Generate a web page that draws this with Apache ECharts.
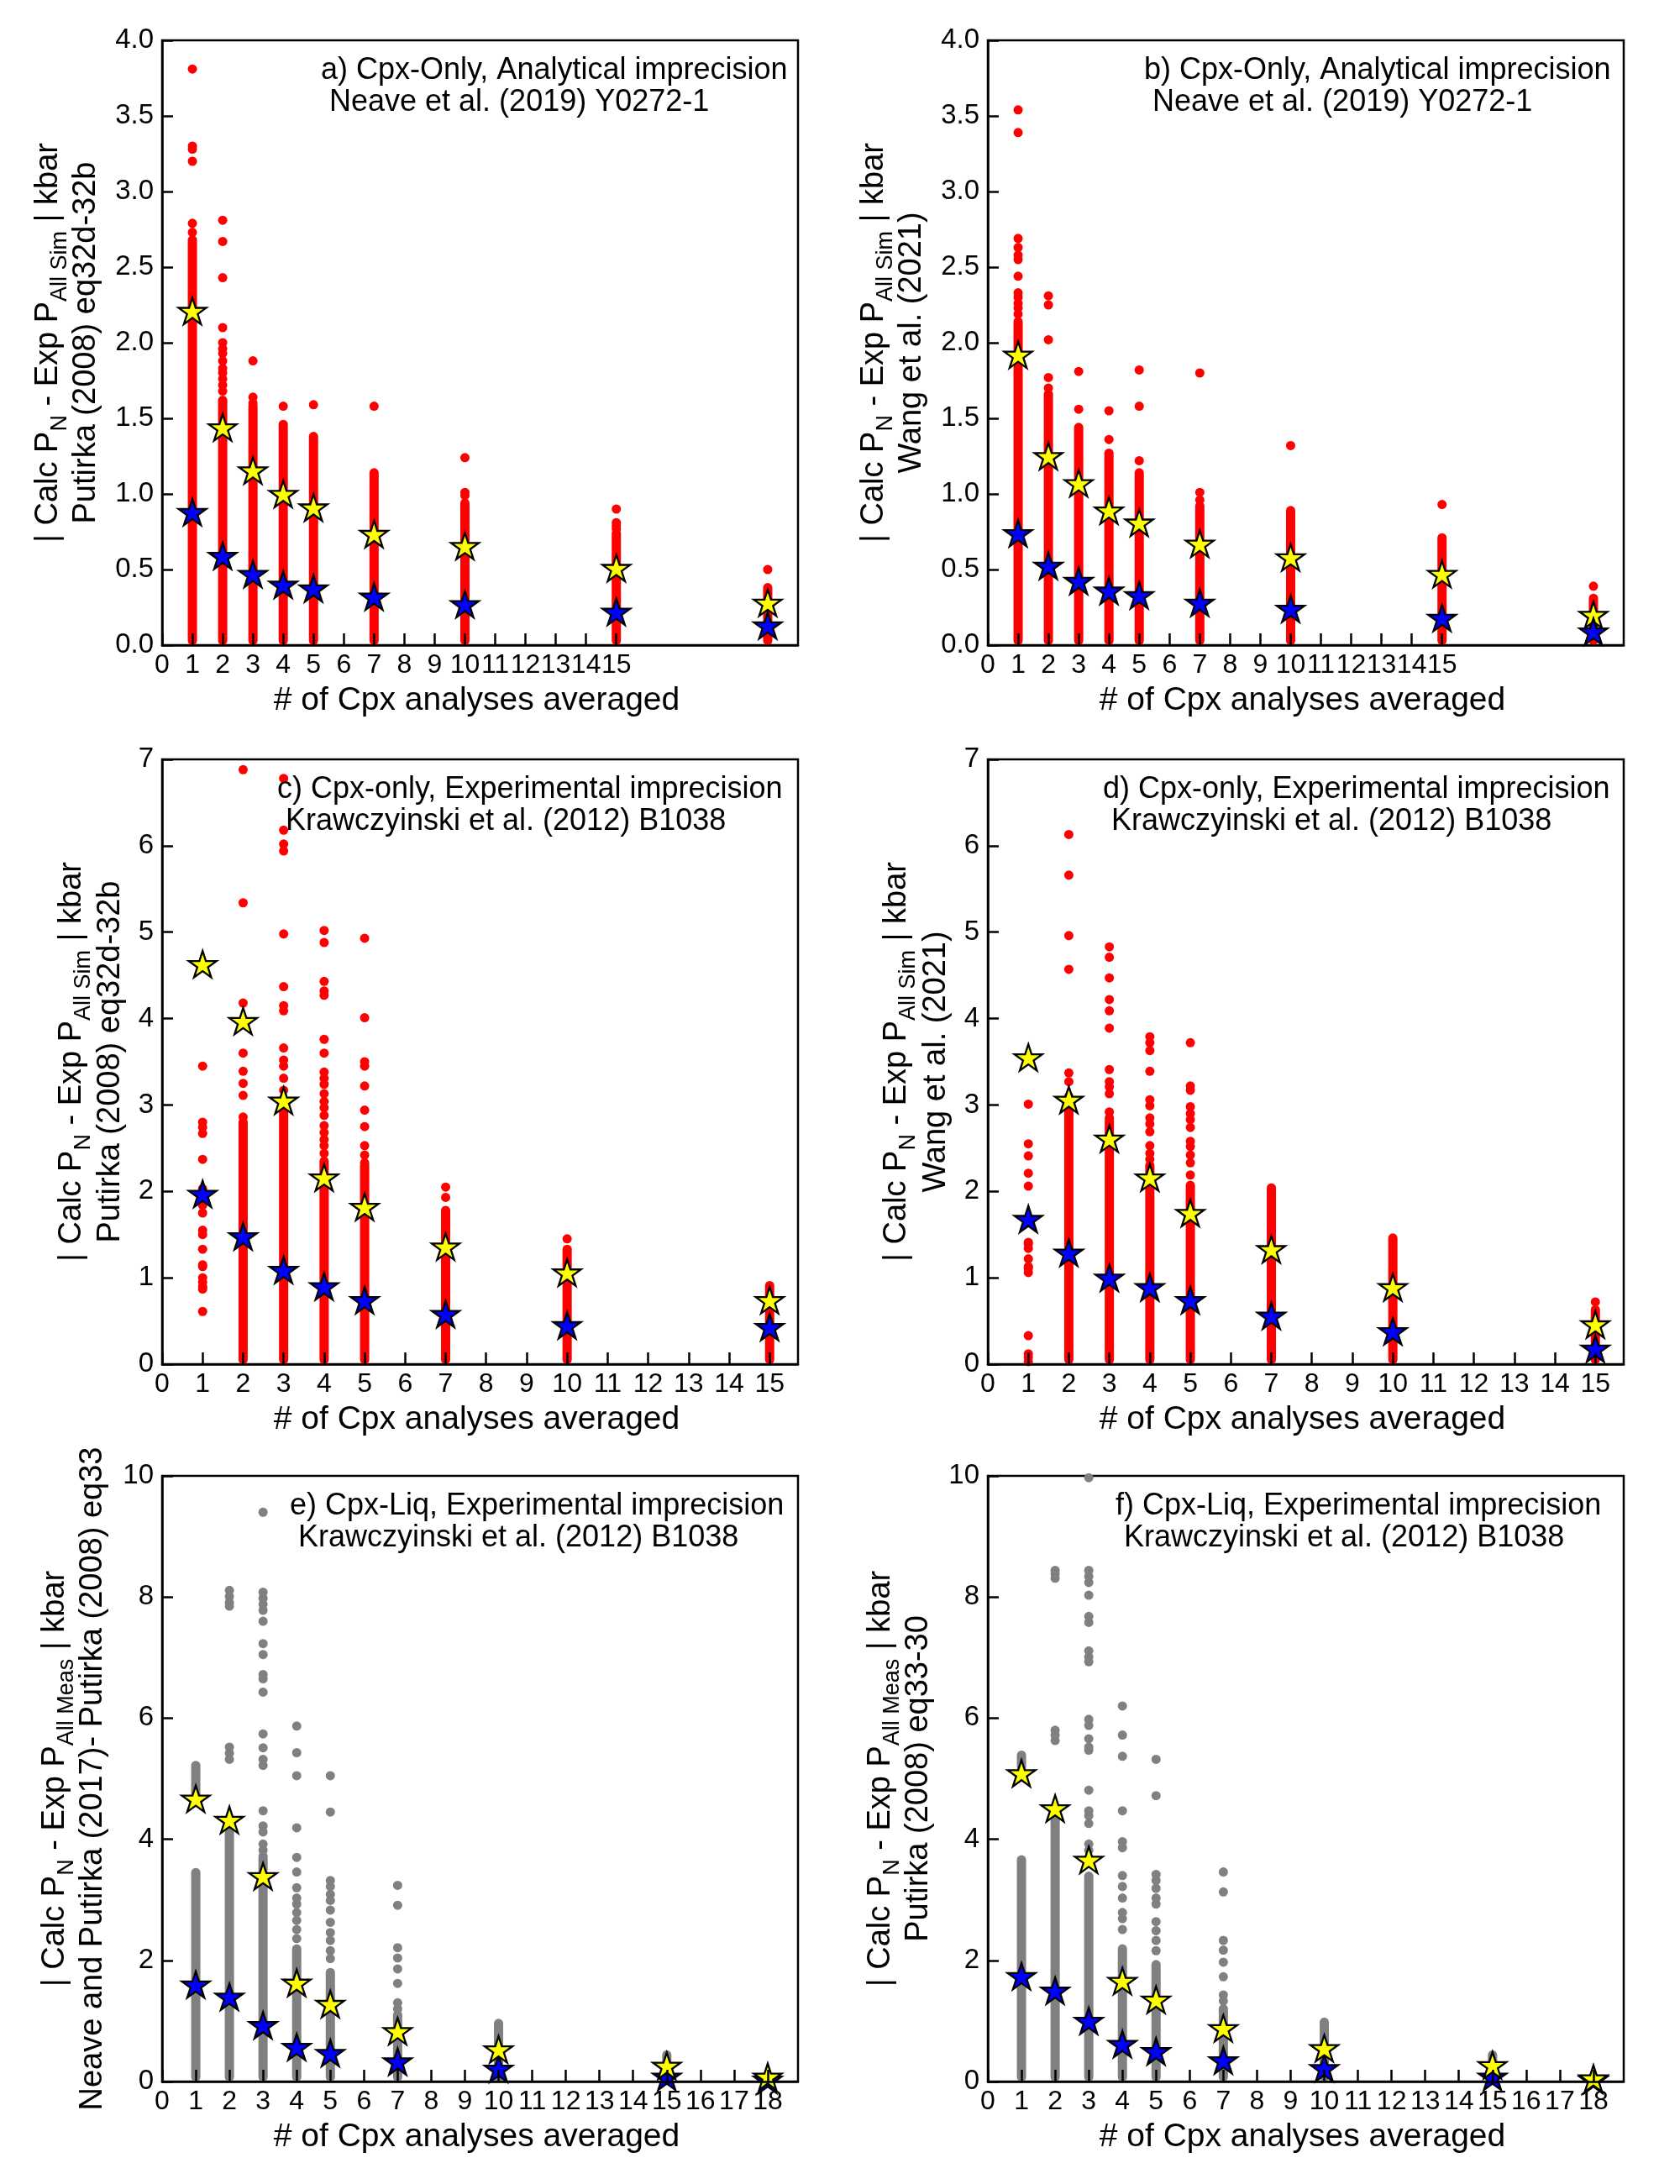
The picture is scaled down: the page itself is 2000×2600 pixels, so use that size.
<!DOCTYPE html>
<html><head><meta charset="utf-8">
<script src="https://cdn.jsdelivr.net/npm/echarts@6/dist/echarts.min.js"></script>
<style>html,body{margin:0;padding:0;background:#fff}#c{width:2000px;height:2600px}</style>
</head><body><div id="c"></div>
<script>
// ---------------- DATA ----------------
const xTicksAB = [0,1,2,3,4,5,6,7,8,9,10,11,12,13,14,15];
const xTicksCD = [0,1,2,3,4,5,6,7,8,9,10,11,12,13,14,15];
const xTicksEF = [0,1,2,3,4,5,6,7,8,9,10,11,12,13,14,15,16,17,18];

const colsAB = [1,2,3,4,5,7,10,15,20];
const colsCD = [1,2,3,4,5,7,10,15];
const colsEF = [1,2,3,4,5,7,10,15,18];

// dense (continuous) runs of points: [x, low, high]
const denseA = [[1,0,2.68],[2,0,1.62],[3,0,1.58],[4,0,1.46],[5,0,1.38],[7,0,1.14],[10,0,0.94],[15,0,0.74],[20,0,0.38]];
const denseB = [[1,0,2.14],[2,0,1.66],[3,0,1.44],[4,0,1.27],[5,0,1.14],[7,0,0.92],[10,0,0.89],[15,0,0.71],[20,0,0.31]];
const denseC = [[2,0,2.80],[3,0,2.95],[4,0,2.35],[5,0,2.30],[7,0,1.78],[10,0,1.33],[15,0,0.91]];
const denseD = [[2,0,2.99],[3,0,2.85],[4,0,2.30],[5,0,2.07],[7,0,2.04],[10,0,1.46],[15,0,0.63]];
const denseE = [[1,0,3.45],[1,4.65,5.22],[2,0,4.12],[3,0,3.72],[4,0,2.19],[5,0,1.80],[7,0,1.10],[10,0,0.96],[15,0,0.44],[18,0,0.10]];
const denseF = [[1,0,3.66],[1,5.19,5.39],[2,0,4.39],[3,0,3.39],[4,0,2.19],[5,0,1.93],[7,0,1.20],[10,0,0.98],[15,0,0.44],[18,0,0.08]];

// individual (sparse) points: [x, y]
const pointsA = [[1,3.81],[1,3.30],[1,3.28],[1,3.20],[1,2.79],[1,2.73],
 [2,2.81],[2,2.67],[2,2.43],[2,2.10],[2,2.00],[2,1.96],[2,1.93],[2,1.88],[2,1.83],[2,1.80],[2,1.76],[2,1.72],[2,1.68],
 [3,1.88],[3,1.64],[3,1.60],[4,1.58],[5,1.59],[7,1.58],[10,1.24],[10,1.01],[10,0.99],
 [15,0.90],[15,0.81],[15,0.79],[15,0.77],[20,0.50]];
const pointsB = [[1,3.54],[1,3.39],[1,2.69],[1,2.63],[1,2.58],[1,2.55],[1,2.44],[1,2.33],[1,2.30],[1,2.26],[1,2.23],[1,2.19],
 [2,2.31],[2,2.25],[2,2.02],[2,1.77],[2,1.70],[3,1.81],[3,1.56],[4,1.55],[4,1.36],
 [5,1.82],[5,1.58],[5,1.22],[7,1.80],[7,1.01],[7,0.96],[10,1.32],[15,0.93],[20,0.39]];
const pointsC = [[1,3.45],[1,2.80],[1,2.74],[1,2.67],[1,2.37],[1,2.03],[1,1.93],[1,1.84],[1,1.75],[1,1.55],[1,1.50],[1,1.33],[1,1.15],[1,1.13],[1,1.00],[1,0.95],[1,0.90],[1,0.87],[1,0.61],
 [2,6.88],[2,5.34],[2,4.18],[2,3.60],[2,3.39],[2,3.25],[2,3.11],[2,2.86],
 [3,6.78],[3,6.18],[3,6.02],[3,5.94],[3,4.98],[3,4.37],[3,4.15],[3,4.09],[3,3.66],[3,3.52],[3,3.45],[3,3.31],[3,3.17],[3,3.05],
 [4,5.02],[4,4.88],[4,4.43],[4,4.32],[4,4.27],[4,3.76],[4,3.60],[4,3.38],[4,3.31],[4,3.24],[4,3.13],[4,3.04],[4,2.97],[4,2.88],[4,2.76],[4,2.68],[4,2.60],[4,2.53],[4,2.44],
 [5,4.93],[5,4.01],[5,3.50],[5,3.45],[5,3.22],[5,2.94],[5,2.75],[5,2.53],[5,2.42],[5,2.33],
 [7,2.05],[7,1.93],[10,1.45]];
const pointsD = [[1,3.01],[1,2.55],[1,2.41],[1,2.21],[1,2.06],[1,1.66],[1,1.41],[1,1.39],[1,1.34],[1,1.22],[1,1.13],[1,1.11],[1,1.06],[1,0.33],[1,0.12],[1,0.08],[1,0.03],
 [2,6.13],[2,5.66],[2,4.96],[2,4.57],[2,3.37],[2,3.27],[2,3.10],
 [3,4.83],[3,4.71],[3,4.47],[3,4.22],[3,4.09],[3,3.89],[3,3.41],[3,3.27],[3,3.21],[3,3.13],[3,2.92],
 [4,3.79],[4,3.72],[4,3.63],[4,3.39],[4,3.06],[4,2.99],[4,2.85],[4,2.78],[4,2.69],[4,2.53],[4,2.44],[4,2.37],
 [5,3.72],[5,3.22],[5,3.17],[5,2.98],[5,2.90],[5,2.83],[5,2.74],[5,2.58],[5,2.52],[5,2.42],[5,2.33],[5,2.19],
 [15,0.72]];
const pointsE = [[2,8.11],[2,8.01],[2,7.91],[2,7.85],[2,5.52],[2,5.42],[2,5.32],
 [3,9.40],[3,8.08],[3,7.98],[3,7.88],[3,7.78],[3,7.60],[3,7.23],[3,7.05],[3,6.72],[3,6.65],[3,6.43],[3,5.74],[3,5.51],[3,5.32],[3,5.22],[3,4.47],[3,4.22],[3,4.12],[3,3.92],[3,3.82],
 [4,5.87],[4,5.43],[4,5.05],[4,4.19],[4,3.70],[4,3.46],[4,3.20],[4,3.03],[4,2.93],[4,2.79],[4,2.66],[4,2.51],[4,2.36],
 [5,5.05],[5,4.45],[5,3.32],[5,3.22],[5,3.09],[5,2.99],[5,2.83],[5,2.63],[5,2.46],[5,2.33],[5,2.16],[5,2.03],
 [7,3.24],[7,2.91],[7,2.21],[7,2.04],[7,1.86],[7,1.62],[7,1.30],[7,1.20]];
const pointsF = [[2,8.44],[2,8.38],[2,8.31],[2,5.80],[2,5.72],[2,5.63],
 [3,9.97],[3,8.44],[3,8.34],[3,8.24],[3,8.03],[3,7.68],[3,7.58],[3,7.11],[3,7.01],[3,6.93],[3,5.98],[3,5.88],[3,5.66],[3,5.52],[3,5.47],[3,4.81],[3,4.47],[3,4.39],[3,4.26],[3,3.92],[3,3.82],[3,3.60],
 [4,6.20],[4,5.72],[4,5.37],[4,4.47],[4,3.96],[4,3.86],[4,3.40],[4,3.22],[4,3.03],[4,2.79],[4,2.69],[4,2.51],
 [5,5.32],[5,4.72],[5,3.42],[5,3.32],[5,3.19],[5,3.03],[5,2.93],[5,2.64],[5,2.49],[5,2.33],[5,2.16],
 [7,3.46],[7,3.13],[7,2.33],[7,2.17],[7,1.97],[7,1.73],[7,1.43],[7,1.33]];

// summary stars
const yellowA = [2.21,1.44,1.155,1.00,0.91,0.735,0.655,0.51,0.28];
const blueA   = [0.88,0.59,0.47,0.40,0.375,0.32,0.27,0.22,0.13];
const yellowB = [1.92,1.25,1.07,0.89,0.81,0.67,0.58,0.47,0.20];
const blueB   = [0.74,0.525,0.425,0.36,0.33,0.28,0.24,0.18,0.09];
const yellowC = [4.63,3.97,3.05,2.16,1.82,1.36,1.06,0.74];
const blueC   = [1.97,1.48,1.09,0.90,0.74,0.58,0.45,0.43];
const yellowD = [3.55,3.06,2.61,2.16,1.75,1.33,0.89,0.46];
const blueD   = [1.68,1.29,1.00,0.89,0.74,0.56,0.38,0.18];
const yellowE = [4.67,4.32,3.39,1.63,1.28,0.83,0.53,0.26,0.08];
const blueE   = [1.60,1.40,0.93,0.57,0.47,0.33,0.21,0.08,0.03];
const yellowF = [5.09,4.51,3.66,1.66,1.35,0.88,0.55,0.27,0.05];
const blueF   = [1.74,1.50,1.00,0.62,0.50,0.35,0.22,0.08,0.03];

// texts
const notes = [
 'a) Cpx-Only, Analytical imprecision\n Neave et al. (2019) Y0272-1',
 'b) Cpx-Only, Analytical imprecision\n Neave et al. (2019) Y0272-1',
 'c) Cpx-only, Experimental imprecision\n Krawczyinski et al. (2012) B1038',
 'd) Cpx-only, Experimental imprecision\n Krawczyinski et al. (2012) B1038',
 'e) Cpx-Liq, Experimental imprecision\n Krawczyinski et al. (2012) B1038',
 'f) Cpx-Liq, Experimental imprecision\n Krawczyinski et al. (2012) B1038'
];
const yTitle2 = ['Putirka (2008) eq32d-32b','Wang et al. (2021)','Putirka (2008) eq32d-32b','Wang et al. (2021)',
 'Neave and Putirka (2017)- Putirka (2008) eq33','Putirka (2008) eq33-30'];
const ySubs = ['All Sim','All Sim','All Sim','All Sim','All Meas','All Meas'];
const xTitle = '# of Cpx analyses averaged';

// ---------------- LAYOUT / STYLE ----------------
const FONT = '"Liberation Sans", Arial, Helvetica, sans-serif';
const DOT = 11;
const STAR = 33;
const grids = [
 {left:193, top:48, width:757, height:720},
 {left:1176, top:48, width:757, height:720},
 {left:193, top:904, width:757, height:720},
 {left:1176, top:904, width:757, height:720},
 {left:193, top:1757, width:757, height:721},
 {left:1176, top:1757, width:757, height:721}
];
const panels = [
 {xMax:21, ticks:xTicksAB, yMax:4, yInt:0.5, dec:1, color:'#ff0000', dense:denseA, pts:pointsA, cols:colsAB, yel:yellowA, blu:blueA, blueTop:true, off:[135,90], noteX:382},
 {xMax:21, ticks:xTicksAB, yMax:4, yInt:0.5, dec:1, color:'#ff0000', dense:denseB, pts:pointsB, cols:colsAB, yel:yellowB, blu:blueB, blueTop:true, off:[135,90], noteX:1362},
 {xMax:15.7, ticks:xTicksCD, yMax:7, yInt:1, dec:0, color:'#ff0000', dense:denseC, pts:pointsC, cols:colsCD, yel:yellowC, blu:blueC, blueTop:true, off:[107,61], noteX:330},
 {xMax:15.7, ticks:xTicksCD, yMax:7, yInt:1, dec:0, color:'#ff0000', dense:denseD, pts:pointsD, cols:colsCD, yel:yellowD, blu:blueD, blueTop:true, off:[108,61], noteX:1313},
 {xMax:18.9, ticks:xTicksEF, yMax:10, yInt:2, dec:0, color:'#808080', dense:denseE, pts:pointsE, cols:colsEF, yel:yellowE, blu:blueE, blueTop:false, off:[127,82], noteX:345},
 {xMax:18.9, ticks:xTicksEF, yMax:10, yInt:2, dec:0, color:'#808080', dense:denseF, pts:pointsF, cols:colsEF, yel:yellowF, blu:blueF, blueTop:false, off:[127,82], noteX:1328}
];

function starPath() {
  const pts = [];
  for (let k = 0; k < 10; k++) {
    const a = -Math.PI / 2 + k * Math.PI / 5;
    const r = k % 2 === 0 ? 1 : 0.381966;
    pts.push((r * Math.cos(a)).toFixed(4) + ',' + (r * Math.sin(a)).toFixed(4));
  }
  return 'path://M' + pts.join('L') + 'Z';
}
const STAR_PATH = starPath();

function renderDense(params, api) {
  const x = api.value(0), lo = api.value(1), hi = api.value(2);
  const pTop = api.coord([x, hi]);
  const pBot = api.coord([x, lo]);
  const r = DOT / 2;
  const cs = params.coordSys;
  const y0 = Math.max(pTop[1] - r, cs.y);
  const y1 = Math.min(pBot[1] + r, cs.y + cs.height);
  return {
    type: 'rect',
    shape: {x: pTop[0] - r, y: y0, width: 2 * r, height: y1 - y0, r: r},
    style: {fill: api.visual('color')}
  };
}

const option = {
  animation: false,
  backgroundColor: '#ffffff',
  grid: grids.map(g => Object.assign({show: true, borderColor: '#000', borderWidth: 2.5, backgroundColor: 'transparent', containLabel: false}, g)),
  xAxis: [], yAxis: [], series: [], graphic: []
};

panels.forEach((p, i) => {
  const g = grids[i];
  option.xAxis.push({
    type: 'value', gridIndex: i, min: 0, max: p.xMax, interval: 1, z: 5,
    splitLine: {show: false},
    axisLine: {show: true, onZero: false, lineStyle: {color: '#000', width: 2.5}},
    axisTick: {show: true, inside: true, length: 14, customValues: p.ticks, lineStyle: {color: '#000', width: 2.5}},
    axisLabel: {show: true, customValues: p.ticks, color: '#000', fontSize: 32, fontFamily: FONT, margin: 8, hideOverlap: false}
  });
  option.yAxis.push({
    type: 'value', gridIndex: i, min: 0, max: p.yMax, interval: p.yInt, z: 5,
    splitLine: {show: false},
    axisLine: {show: true, onZero: false, lineStyle: {color: '#000', width: 2.5}},
    axisTick: {show: true, inside: true, length: 13, lineStyle: {color: '#000', width: 2.5}},
    axisLabel: {show: true, color: '#000', fontSize: 33, fontFamily: FONT, margin: 10,
      formatter: v => Number(v).toFixed(p.dec)}
  });
  option.series.push({
    type: 'custom', xAxisIndex: i, yAxisIndex: i, clip: true, z: 2,
    renderItem: renderDense, itemStyle: {color: p.color},
    encode: {x: 0, y: [1, 2]}, data: p.dense
  });
  option.series.push({
    type: 'scatter', xAxisIndex: i, yAxisIndex: i, clip: true, z: 2,
    symbol: 'circle', symbolSize: DOT, itemStyle: {color: p.color, opacity: 1},
    data: p.pts
  });
  const starY = {
    type: 'scatter', xAxisIndex: i, yAxisIndex: i, z: p.blueTop ? 3 : 4,
    symbol: STAR_PATH, symbolKeepAspect: true, symbolSize: STAR,
    itemStyle: {color: '#ffff00', borderColor: '#000', borderWidth: 2.3, opacity: 1},
    data: p.cols.map((x, k) => [x, p.yel[k]])
  };
  const starB = {
    type: 'scatter', xAxisIndex: i, yAxisIndex: i, z: p.blueTop ? 4 : 3,
    symbol: STAR_PATH, symbolKeepAspect: true, symbolSize: STAR,
    itemStyle: {color: '#0000ff', borderColor: '#000', borderWidth: 2.3, opacity: 1},
    data: p.cols.map((x, k) => [x, p.blu[k]])
  };
  option.series.push(starY, starB);

  // annotation
  option.graphic.push({
    type: 'text', x: p.noteX, y: g.top + 17, z: 10,
    style: {text: notes[i], fill: '#000', font: '36px ' + FONT, lineHeight: 38, align: 'left', verticalAlign: 'top'}
  });
  // x title
  option.graphic.push({
    type: 'text', x: g.left + g.width / 2 - 4, y: g.top + g.height + 66, z: 10,
    style: {text: xTitle, fill: '#000', font: '39px ' + FONT, align: 'center', verticalAlign: 'middle'}
  });
  // y titles (rotated)
  const cy = g.top + g.height / 2;
  option.graphic.push({
    type: 'text', x: g.left - p.off[0], y: cy, rotation: Math.PI / 2, z: 10,
    style: {
      text: '{m|| Calc P}{s|N}{m| - Exp P}{s|' + ySubs[i] + '}{m| | kbar}',
      align: 'center', verticalAlign: 'middle', fill: '#000',
      rich: {
        m: {fontSize: 38, fontFamily: FONT, lineHeight: 50, fill: '#000', verticalAlign: 'middle'},
        s: {fontSize: 27, fontFamily: FONT, lineHeight: 22, height: 22, fill: '#000', verticalAlign: 'bottom'}
      }
    }
  });
  option.graphic.push({
    type: 'text', x: g.left - p.off[1], y: cy, rotation: Math.PI / 2, z: 10,
    style: {text: yTitle2[i], fill: '#000', font: '38px ' + FONT, align: 'center', verticalAlign: 'middle'}
  });
});

const chart = echarts.init(document.getElementById('c'), null, {renderer: 'canvas'});
chart.setOption(option);
</script></body></html>
